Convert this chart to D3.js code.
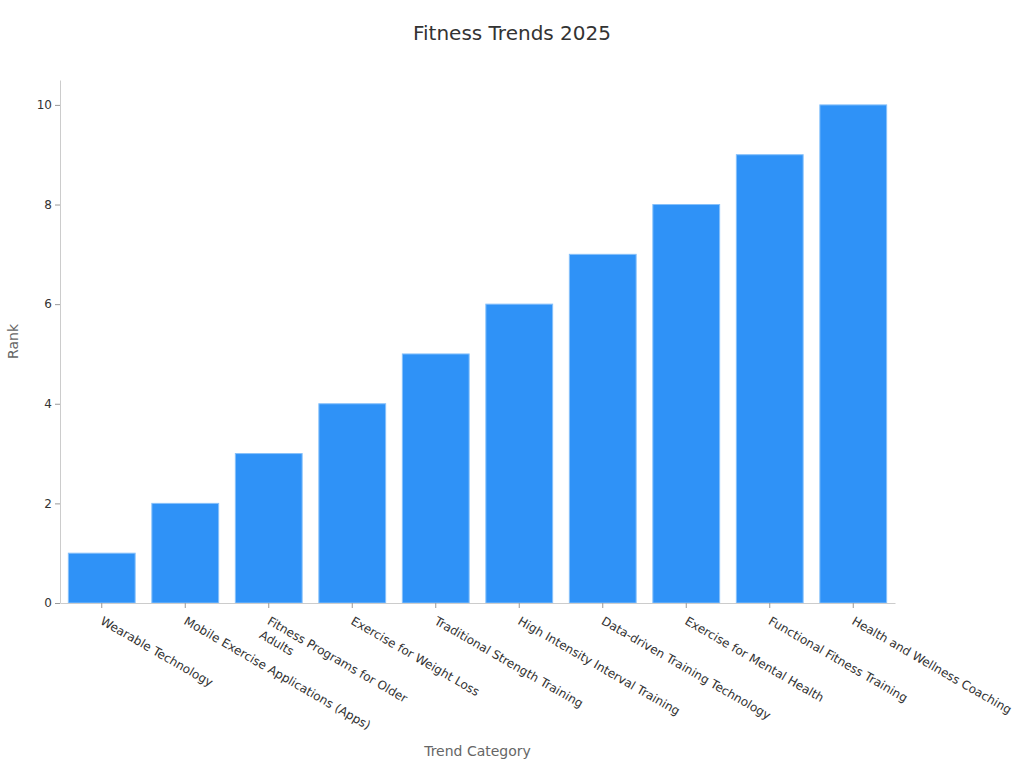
<!doctype html>
<meta charset="utf-8">
<title>Fitness Trends 2025</title>
<script src="https://cdn.jsdelivr.net/npm/d3@7/dist/d3.min.js"></script>
<style>
  body { margin: 0; background: #fff; }
  text { font-family: "DejaVu Sans", sans-serif; }
</style>
<body>
<script>
var categories = [
  "Wearable Technology",
  "Mobile Exercise Applications (Apps)",
  "Fitness Programs for Older\nAdults",
  "Exercise for Weight Loss",
  "Traditional Strength Training",
  "High Intensity Interval Training",
  "Data-driven Training Technology",
  "Exercise for Mental Health",
  "Functional Fitness Training",
  "Health and Wellness Coaching"
];
var ranks = [1, 2, 3, 4, 5, 6, 7, 8, 9, 10];
var yTicks = [0, 2, 4, 6, 8, 10];

var width = 1024, height = 768;
var margin = {top: 80, right: 129, bottom: 165, left: 60};

var svg = d3.select('body').append('svg')
  .attr('width', width)
  .attr('height', height);

var x = d3.scaleBand()
  .domain(categories)
  .range([margin.left, width - margin.right])
  .paddingInner(0.2)
  .paddingOuter(0.1);

var y = d3.scaleLinear()
  .domain([0, 10.5])
  .range([height - margin.bottom, margin.top]);

// title
svg.append('text')
  .attr('x', width / 2)
  .attr('y', 40)
  .attr('text-anchor', 'middle')
  .style('font-size', '20px')
  .style('fill', '#333')
  .text('Fitness Trends 2025');

// bars
svg.append('g').selectAll('rect')
  .data(ranks)
  .enter().append('rect')
  .attr('x', function(d, i) { return x(categories[i]); })
  .attr('y', function(d) { return y(d); })
  .attr('width', x.bandwidth())
  .attr('height', function(d) { return y(0) - y(d); })
  .attr('fill', '#2f92f7')
  .attr('stroke', '#86c0fa')
  .attr('stroke-width', 1);

// y axis
var yAxis = svg.append('g')
  .attr('transform', 'translate(' + margin.left + ',0)')
  .call(d3.axisLeft(y).tickValues(yTicks).tickSize(5).tickPadding(3).tickSizeOuter(0));
yAxis.select('.domain').attr('stroke', '#ccc');
yAxis.selectAll('.tick line').attr('stroke', '#999');
yAxis.selectAll('.tick text')
  .style('font-size', '12px')
  .style('fill', '#333')
  .style('font-family', '"DejaVu Sans", sans-serif');

// x axis
var xAxis = svg.append('g')
  .attr('transform', 'translate(0,' + y(0) + ')')
  .call(d3.axisBottom(x).tickSize(5).tickSizeOuter(0).tickFormat(''));
xAxis.select('.domain').attr('stroke', '#ccc');
xAxis.selectAll('.tick line').attr('stroke', '#999');
xAxis.selectAll('.tick text').remove();

// rotated category labels (multi-line on \n)
var lbl = svg.append('g').selectAll('text')
  .data(categories)
  .enter().append('text')
  .attr('transform', function(d) {
    return 'translate(' + (x(d) + x.bandwidth() / 2 + 2) + ',' + (y(0) + 13) + ') rotate(30)';
  })
  .style('font-size', '12px')
  .style('fill', '#333');
lbl.each(function(d) {
  var t = d3.select(this);
  d.split('\n').forEach(function(line, i) {
    t.append('tspan')
      .attr('x', 0)
      .attr('dy', i === 0 ? '0.71em' : '16px')
      .text(line);
  });
});

// axis titles
svg.append('text')
  .attr('x', (margin.left + width - margin.right) / 2)
  .attr('y', 756)
  .attr('text-anchor', 'middle')
  .style('font-size', '14px')
  .style('fill', '#666')
  .text('Trend Category');

svg.append('text')
  .attr('transform', 'translate(18,' + ((margin.top + height - margin.bottom) / 2) + ') rotate(-90)')
  .attr('text-anchor', 'middle')
  .style('font-size', '14px')
  .style('fill', '#666')
  .text('Rank');
</script>
</body>
